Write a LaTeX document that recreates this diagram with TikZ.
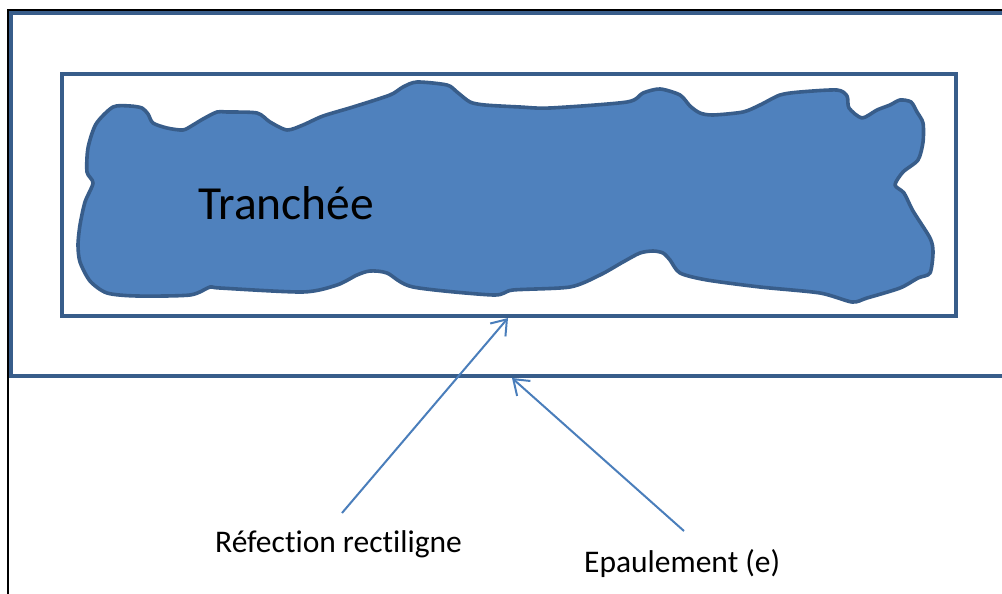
\documentclass[tikz,border=0pt]{standalone}
\usepackage{fontspec}
\setmainfont{Carlito}[Ligatures=NoCommon]
\usetikzlibrary{arrows.meta}
\definecolor{edgeblue}{HTML}{385D8A}
\definecolor{fillblue}{HTML}{4F81BD}
\definecolor{arrowblue}{HTML}{4A7EBB}
\tikzset{
  frame/.style={draw=black, line width=2.4pt},
  rectline/.style={draw=edgeblue, line width=4pt},
  blob/.style={draw=edgeblue, fill=fillblue, line width=3.6pt, line join=round},
  pointer/.style={draw=arrowblue, line width=2pt, -{Straight Barb[length=14pt,width=20pt,line width=2pt]}},
  label/.style={anchor=base west, inner sep=0pt, font=\fontsize{31.5}{36}\selectfont, text=black},
  biglabel/.style={anchor=base west, inner sep=0pt, font=\fontsize{47.5}{54}\selectfont, text=black}
}
\begin{document}
\begin{tikzpicture}[x=1pt,y=-1pt]
\useasboundingbox (0,0) rectangle (1002,594);
\fill[white] (0,0) rectangle (1002,594);
% black frame
\draw[frame] (8,594) -- (8,10) -- (1002,10);
% outer blue rectangle (open to the right)
\draw[rectline] (1004,13) -- (11,13) -- (11,376) -- (1004,376);
% inner rectangle
\draw[rectline] (62,74) rectangle (956,316);
% trench blob
\path[blob] plot[smooth cycle, tension=0.45] coordinates {
(88,148) (96,124) (113,107) (130,106) (142,108) (148,114) (153,123) (167,128) (183,130) (193,125) (203,119) (217,112) (227,112) (257,113) (270,122) (287,130) (303,125) (323,116) (353,107) (390,95) (403,87) (417,82) (447,85) (457,92) (470,102) (485,105) (520,107) (550,108) (627,102) (643,93) (660,89) (680,95) (690,106) (700,113) (713,115) (743,112) (760,105) (780,95) (800,92) (837,90) (847,96) (849,108) (862,118) (877,110) (890,105) (900,100) (911,102) (917,112) (923,123) (923,142) (918,160) (903,172) (895,185) (904,193) (913,211) (930,238) (933,252) (930,273) (918,278) (900,288) (867,298) (852,302) (820,293) (760,287) (707,280) (680,273) (670,260) (663,253) (653,251) (640,253) (623,262) (600,275) (570,287) (513,290) (493,295) (413,287) (387,273) (370,271) (357,275) (337,285) (303,292) (220,288) (210,287) (190,295) (137,296) (107,293) (90,281) (80,262) (78,245) (80,225) (85,202) (93,183) (87,172)
};
\node[biglabel] (tranchee) at (198,219) {Tranchée};
% labels
\node[label] (refection) at (215,552) {Réfection rectiligne};
\node[label] (epaulement) at (584,572) {Epaulement (e)};
% arrows
\coordinate (a1s) at (342,513);
\coordinate (a1e) at (508,318);
\coordinate (a2s) at (684,531);
\coordinate (a2e) at (512,378);
\draw[pointer] (a1s) -- (a1e);
\draw[pointer] (a2s) -- (a2e);
\end{tikzpicture}
\end{document}
